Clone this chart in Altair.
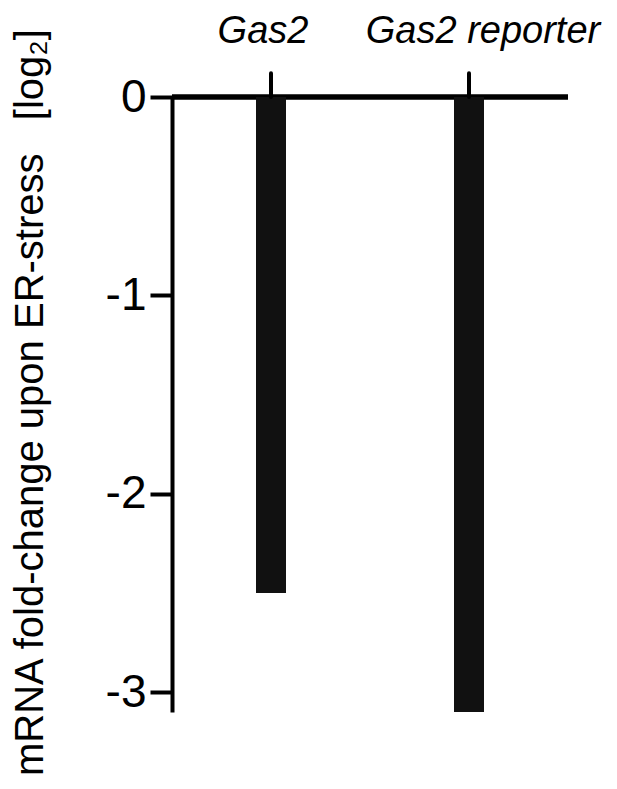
import altair as alt
import pandas as pd

categories = ["Gas2", "Gas2 reporter"]
fold_change = [-2.5, -3.1]
err_upper = [0.12, 0.12]
zero_base = [0, 0]
tick_values = [0, -1, -2, -3]
label_dx = [-8, 14]
y_title = "mRNA fold-change upon ER-stress\u00a0\u00a0\u00a0[log\u2082]"

df = pd.DataFrame({"cat": categories, "val": fold_change, "err": err_upper, "zero": zero_base})

FONT = "Liberation Sans"
xenc = alt.X("cat:N", scale=alt.Scale(domain=categories, paddingInner=0, paddingOuter=0), axis=None)
yscale = alt.Scale(domain=[-3.1, 0], nice=False, zero=False)
yaxis = alt.Axis(
    values=tick_values, labelExpr="'' + datum.value", grid=False,
    domainColor="black", domainWidth=4, tickColor="black", tickWidth=4, tickSize=22,
    labelFont=FONT, labelFontSize=46, labelColor="black", labelPadding=4,
    title=y_title, titleFont=FONT, titleFontSize=40, titleFontWeight="normal",
    titleColor="black", titleAngle=270, titleAlign="center", titleBaseline="alphabetic",
    titleX=-130, titleY=305,
)

base = alt.Chart(df)

zero_line = base.mark_rule(color="black", strokeWidth=5).encode(
    y=alt.Y("zero:Q", scale=yscale, axis=yaxis)
)
bars = base.mark_bar(size=30, color="#111111").encode(
    x=xenc, y=alt.Y("val:Q", scale=yscale, axis=yaxis), y2="zero:Q"
)
stubs = base.mark_rule(color="black", strokeWidth=4, strokeCap="round").encode(
    x=xenc, y=alt.Y("err:Q", scale=yscale, axis=yaxis), y2="zero:Q"
)
texts = []
for c, d in zip(categories, label_dx):
    texts.append(
        base.transform_filter(alt.datum.cat == c).mark_text(
            dx=d, font=FONT, fontSize=38, fontStyle="italic", color="black",
            align="center", baseline="alphabetic"
        ).encode(x=xenc, y=alt.value(-54), text="cat:N")
    )

chart = alt.layer(zero_line, bars, stubs, *texts).properties(
    width=396, height=615,
    autosize=alt.AutoSizeParams(type="none"),
    padding={"left": 164, "top": 89, "right": 41, "bottom": 69},
).configure_view(stroke=None)

chart.save("out.html", embed_options={"renderer": "svg", "actions": False})
